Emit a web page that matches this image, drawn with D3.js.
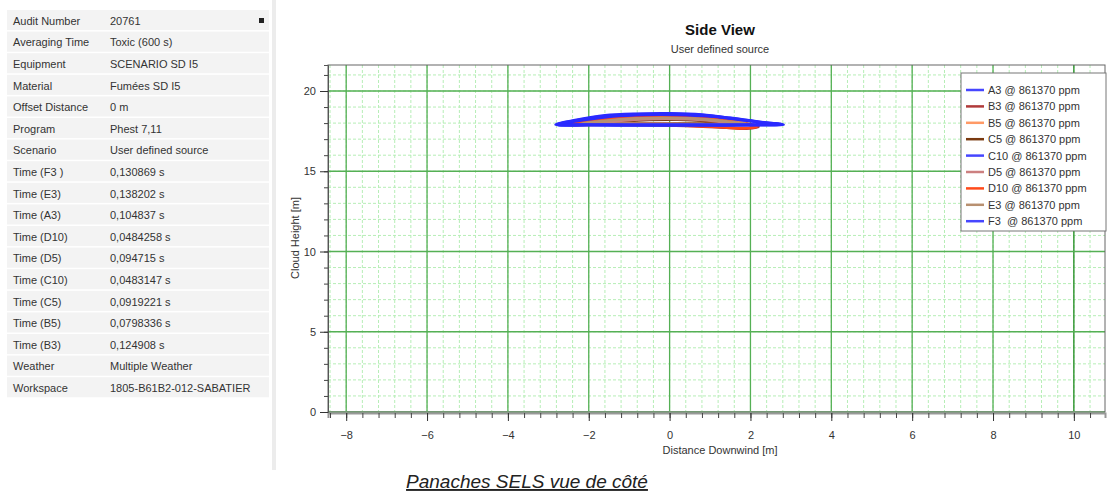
<!DOCTYPE html>
<html>
<head>
<meta charset="utf-8">
<script src="https://cdn.jsdelivr.net/npm/d3@7"></script>
<style>
  body { margin: 0; background: #fff; }
  text { font-family: "Liberation Sans", Arial, sans-serif; }
</style>
</head>
<body>
<script>
const width = 1109;
const height = 492;

// left info panel
const infoLabels = ["Audit Number", "Averaging Time", "Equipment", "Material", "Offset Distance", "Program", "Scenario",
  "Time (F3 )", "Time (E3)", "Time (A3)", "Time (D10)", "Time (D5)", "Time (C10)", "Time (C5)", "Time (B5)", "Time (B3)",
  "Weather", "Workspace"];
const infoValues = ["20761", "Toxic (600 s)", "SCENARIO SD I5", "Fumées SD I5", "0 m", "Phest 7,11", "User defined source",
  "0,130869 s", "0,138202 s", "0,104837 s", "0,0484258 s", "0,094715 s", "0,0483147 s", "0,0919221 s", "0,0798336 s", "0,124908 s",
  "Multiple Weather", "1805-B61B2-012-SABATIER"];

// legend
const seriesNames = ["A3", "B3", "B5", "C5", "C10", "D5", "D10", "E3", "F3 "];
const seriesColors = ["#4646ff", "#b03a3a", "#ff9a66", "#7a3a10", "#4646ff", "#cc8080", "#ff4a1a", "#b89070", "#4646ff"];
const concentration = "861370";

// plume contours [x, height] in m
const contourA3 = [[-2.82,17.9],[-2.3,18.2],[-1.6,18.48],[-0.8,18.58],[0,18.6],[0.8,18.52],[1.5,18.32],[2.2,18.08],[2.82,17.9],[2.0,17.87],[1.0,17.86],[0,17.86],[-1.0,17.86],[-2.0,17.87]];
const contourB3 = [[-2.6,17.92],[-2.0,18.2],[-1.3,18.42],[-0.5,18.5],[0.3,18.46],[1.0,18.32],[1.6,18.1],[2.2,17.78],[1.9,17.66],[1.4,17.72],[0.6,17.82],[-0.4,17.88],[-1.5,17.9]];
const contourB5 = [[-2.3,17.95],[-1.7,18.15],[-1.0,18.32],[-0.2,18.38],[0.6,18.32],[1.3,18.16],[1.9,17.95],[1.5,17.88],[0.6,17.9],[-0.5,17.93],[-1.5,17.95]];
const contourC5 = [[-1.8,17.98],[-1.2,18.1],[-0.5,18.2],[0.2,18.22],[0.9,18.14],[1.5,18.0],[0.8,17.96],[-0.2,17.97],[-1.0,17.98]];
const contourC10 = [[-2.7,17.92],[-2.1,18.2],[-1.4,18.42],[-0.6,18.52],[0.2,18.52],[1.0,18.42],[1.7,18.22],[2.4,18.0],[2.72,17.93],[2.0,17.9],[1.0,17.9],[0,17.9],[-1.0,17.9],[-2.0,17.91]];
const contourD5 = [[-2.0,17.97],[-1.4,18.12],[-0.7,18.24],[0.1,18.27],[0.8,18.2],[1.5,18.03],[1.8,17.95],[1.0,17.93],[0,17.95],[-1.0,17.96]];
const contourD10 = [[-2.5,17.93],[-1.9,18.18],[-1.2,18.38],[-0.4,18.45],[0.4,18.4],[1.1,18.25],[1.7,18.02],[2.15,17.76],[1.8,17.68],[1.2,17.76],[0.4,17.85],[-0.6,17.9],[-1.6,17.92]];
const contourE3 = [[-2.2,17.96],[-1.6,18.14],[-0.9,18.28],[-0.1,18.33],[0.7,18.27],[1.4,18.1],[1.9,17.93],[1.2,17.9],[0.2,17.92],[-1.0,17.95]];
const contourF3 = [[-2.78,17.91],[-2.2,18.22],[-1.5,18.46],[-0.7,18.56],[0.1,18.57],[0.9,18.48],[1.6,18.28],[2.3,18.04],[2.78,17.92],[2.0,17.88],[1.0,17.88],[0,17.88],[-1.0,17.88],[-2.0,17.89]];
const contours = [contourA3, contourB3, contourB5, contourC5, contourC10, contourD5, contourD10, contourE3, contourF3];

const xTicks = [-8, -6, -4, -2, 0, 2, 4, 6, 8, 10];
const yTicks = [0, 5, 10, 15, 20];

const svg = d3.select('body').append('svg')
    .attr('width', width)
    .attr('height', height);

// ---- info table ----
const rowH = 21.6;
const table = svg.append('g');
table.append('line')
    .attr('x1', 274).attr('x2', 274).attr('y1', 0).attr('y2', 470)
    .attr('stroke', '#ececec').attr('stroke-width', 4);

const rows = table.selectAll('g.row')
    .data(infoLabels)
    .enter()
    .append('g')
    .attr('transform', (d, i) => `translate(7,${10 + i * rowH})`);

rows.append('rect')
    .attr('width', 262)
    .attr('height', rowH - 1.5)
    .attr('fill', '#f3f3f3');

rows.append('text')
    .attr('x', 6)
    .attr('y', rowH / 2 + 4)
    .attr('font-size', 11)
    .attr('fill', '#333')
    .text(d => d);

rows.append('text')
    .attr('x', 103)
    .attr('y', rowH / 2 + 4)
    .attr('font-size', 11)
    .attr('fill', '#333')
    .text((d, i) => infoValues[i]);

table.append('rect')
    .attr('x', 259).attr('y', 18).attr('width', 5).attr('height', 5)
    .attr('fill', '#222');

// ---- chart ----
const plot = {left: 328, right: 1105, top: 65, bottom: 412};
const x = d3.scaleLinear().domain([-8.45, 10.77]).range([plot.left, plot.right]);
const y = d3.scaleLinear().domain([0, 21.62]).range([plot.bottom, plot.top]);

const chart = svg.append('g');

const xMinor = d3.range(-8.4, 10.7, 0.4);
const yMinor = d3.range(0, 21.6, 1);

chart.append('g').selectAll('line')
    .data(xMinor)
    .enter().append('line')
    .attr('x1', d => x(d)).attr('x2', d => x(d))
    .attr('y1', plot.top).attr('y2', plot.bottom)
    .attr('stroke', '#b6eeb6').attr('stroke-width', 1)
    .attr('stroke-dasharray', '3,2');

chart.append('g').selectAll('line')
    .data(yMinor)
    .enter().append('line')
    .attr('x1', plot.left).attr('x2', plot.right)
    .attr('y1', d => y(d)).attr('y2', d => y(d))
    .attr('stroke', '#b6eeb6').attr('stroke-width', 1)
    .attr('stroke-dasharray', '3,2');

chart.append('g').selectAll('line')
    .data(xTicks)
    .enter().append('line')
    .attr('x1', d => x(d)).attr('x2', d => x(d))
    .attr('y1', plot.top).attr('y2', plot.bottom)
    .attr('stroke', d => d === 10 ? '#1e8a1e' : '#55b055').attr('stroke-width', 1.3);

chart.append('g').selectAll('line')
    .data(yTicks)
    .enter().append('line')
    .attr('x1', plot.left).attr('x2', plot.right)
    .attr('y1', d => y(d)).attr('y2', d => y(d))
    .attr('stroke', d => d === 0 ? '#86cc86' : '#55b055').attr('stroke-width', d => d === 0 ? 2 : 1.3);

// frame
chart.append('rect')
    .attr('x', plot.left).attr('y', plot.top)
    .attr('width', plot.right - plot.left).attr('height', plot.bottom - plot.top)
    .attr('fill', 'none').attr('stroke', '#666').attr('stroke-width', 1);

// axes
const xAxis = chart.append('g')
    .attr('transform', `translate(0,${plot.bottom + 1})`)
    .call(d3.axisBottom(x).tickValues(xMinor).tickSize(5).tickFormat(''));
xAxis.select('.domain').attr('stroke', '#999').attr('stroke-width', 2);
xAxis.selectAll('line').attr('stroke', '#444');

chart.append('g')
    .attr('transform', `translate(0,${plot.bottom + 1})`)
    .call(d3.axisBottom(x).tickValues(xTicks).tickSize(8).tickPadding(10).tickFormat(d3.format('d')))
    .call(g => g.select('.domain').remove())
    .call(g => g.selectAll('line').attr('stroke', '#333'))
    .call(g => g.selectAll('text').attr('font-size', 11).attr('fill', '#333')
        .attr('font-family', '"Liberation Sans", Arial, sans-serif'));

const yAxis = chart.append('g')
    .attr('transform', `translate(${plot.left},0)`)
    .call(d3.axisLeft(y).tickValues(yMinor).tickSize(4).tickFormat(''));
yAxis.select('.domain').attr('stroke', '#555');
yAxis.selectAll('line').attr('stroke', '#444');

chart.append('g')
    .attr('transform', `translate(${plot.left},0)`)
    .call(d3.axisLeft(y).tickValues(yTicks).tickSize(8).tickPadding(4).tickFormat(d3.format('d')))
    .call(g => g.select('.domain').remove())
    .call(g => g.selectAll('line').attr('stroke', '#333'))
    .call(g => g.selectAll('text').attr('font-size', 11).attr('fill', '#333')
        .attr('font-family', '"Liberation Sans", Arial, sans-serif'));

// plumes
const line = d3.line()
    .x(d => x(d[0]))
    .y(d => y(d[1]))
    .curve(d3.curveCatmullRomClosed.alpha(0.5));

const order = [1, 2, 3, 5, 6, 7, 4, 8, 0];
chart.append('g').selectAll('path')
    .data(order)
    .enter().append('path')
    .attr('d', i => line(contours[i]))
    .attr('fill', 'none')
    .attr('stroke', i => seriesColors[i] === '#4646ff' ? '#2a2aff' : seriesColors[i])
    .attr('stroke-width', 2.8)
    .attr('stroke-linejoin', 'round');

// titles
svg.append('text')
    .attr('x', 720).attr('y', 35)
    .attr('text-anchor', 'middle')
    .attr('font-size', 15).attr('font-weight', 'bold')
    .attr('fill', '#111')
    .text('Side View');

svg.append('text')
    .attr('x', 720).attr('y', 53)
    .attr('text-anchor', 'middle')
    .attr('font-size', 11).attr('fill', '#333')
    .text('User defined source');

svg.append('text')
    .attr('x', 720).attr('y', 454)
    .attr('text-anchor', 'middle')
    .attr('font-size', 11).attr('fill', '#333')
    .text('Distance Downwind [m]');

svg.append('text')
    .attr('transform', 'translate(299,238) rotate(-90)')
    .attr('text-anchor', 'middle')
    .attr('font-size', 11).attr('fill', '#333')
    .text('Cloud Height [m]');

// legend
const legend = svg.append('g').attr('transform', 'translate(961,73)');
legend.append('rect')
    .attr('width', 145).attr('height', 158)
    .attr('fill', '#fff').attr('stroke', '#777');

const items = legend.selectAll('g.item')
    .data(seriesNames)
    .enter().append('g')
    .attr('transform', (d, i) => `translate(0,${17 + i * 16.4})`);

items.append('line')
    .attr('x1', 5).attr('x2', 23)
    .attr('stroke', (d, i) => seriesColors[i])
    .attr('stroke-width', 2.5);

items.append('text')
    .attr('x', 27).attr('y', 4)
    .attr('font-size', 11).attr('fill', '#333')
    .attr('xml:space', 'preserve')
    .style('white-space', 'pre')
    .text(d => `${d} @ ${concentration} ppm`);

// caption
svg.append('text')
    .attr('x', 527).attr('y', 488)
    .attr('text-anchor', 'middle')
    .attr('font-size', 19).attr('font-style', 'italic')
    .attr('text-decoration', 'underline')
    .attr('fill', '#222')
    .attr('font-family', '"Open Sans", sans-serif')
    .text('Panaches SELS vue de côté');
</script>
</body>
</html>
